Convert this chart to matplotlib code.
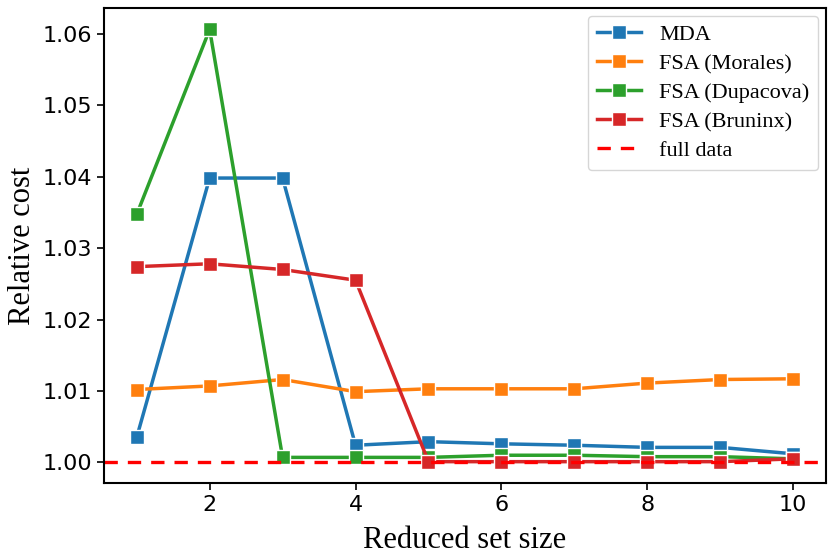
import numpy as np
import matplotlib
matplotlib.use("Agg")
import matplotlib.pyplot as plt


""" data """

set_size = [1, 2, 3, 4, 5, 6, 7, 8, 9, 10]

mda = [1.0035, 1.0398, 1.0398, 1.0024, 1.0029, 1.0026, 1.0024, 1.0021, 1.0021, 1.0012]
fsa_morales = [1.0102, 1.0107, 1.0116, 1.0099, 1.0103, 1.0103, 1.0103, 1.0111, 1.0116, 1.0117]
fsa_dupacova = [1.0347, 1.0606, 1.0007, 1.0007, 1.0007, 1.0010, 1.0010, 1.0008, 1.0008, 1.0005]
fsa_bruninx = [1.0274, 1.0278, 1.0270, 1.0255, 1.0001, 1.0001, 1.0001, 1.0001, 1.0001, 1.0005]

full_data = 1.0


""" plot """

fig = plt.figure(figsize=(8.31, 5.6), dpi=100)
ax = fig.add_axes([0.125, 0.137, 0.869, 0.849])

series = [("MDA", mda, "#1f77b4"),
          ("FSA (Morales)", fsa_morales, "#ff7f0e"),
          ("FSA (Dupacova)", fsa_dupacova, "#2ca02c"),
          ("FSA (Bruninx)", fsa_bruninx, "#d62728")]

for name, vals, c in series:
    ax.plot(set_size, vals, "-s", color=c, lw=2.5, ms=10,
            mec="white", mew=1.0, label=name)

ax.axhline(full_data, color="red", ls=(0, (4, 3)), lw=2.4, label="full data")

ax.set_xticks([2, 4, 6, 8, 10])
ax.tick_params(labelsize=16, width=1.2, length=5)
for s in ax.spines.values():
    s.set_linewidth(1.5)

ax.set_xlabel("Reduced set size", family="Liberation Serif", fontsize=22,
              labelpad=8)
ax.set_ylabel("Relative cost", family="Liberation Serif", fontsize=22)

ax.legend(prop={"family": "Liberation Serif", "size": 16},
          loc="upper right", handlelength=2.0, labelspacing=0.38,
          borderaxespad=0.35)

plt.savefig("out.png")
